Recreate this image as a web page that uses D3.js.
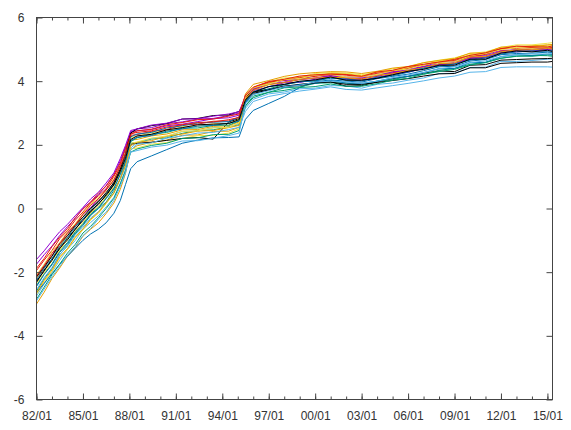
<!DOCTYPE html>
<html>
<head>
<meta charset="utf-8">
<script src="https://cdn.jsdelivr.net/npm/d3@7"></script>
<style>
  html, body { margin: 0; padding: 0; background: #fff; }
  svg { display: block; }
  .tick-label { font-family: "Liberation Sans", Arial, sans-serif; font-size: 12px; fill: #333; }
</style>
</head>
<body>
<svg id="chart" width="571" height="430"></svg>
<script>
// Sample dates (yy/mm) shared by every series
const knots = ["82/01","82/07","83/01","83/07","84/01","84/07","85/01","85/07","86/01","86/07",
  "87/01","87/06","87/10","88/02","88/07","89/06","90/06","91/06","92/06","93/06",
  "94/06","95/02","95/07","96/01","97/01","98/01","99/01","00/01","01/01","02/01",
  "03/01","04/01","05/01","06/01","07/01","08/01","09/01","10/01","11/01","12/01",
  "13/01","14/01","15/01","15/05"];

const s01 = [-1.75,-1.45,-1.18,-0.85,-0.57,-0.32,0.01,0.20,0.43,0.72,1.05,1.50,1.93,2.40,2.44,2.48,2.60,2.65,2.73,2.82,2.85,2.93,3.52,3.78,3.96,4.02,4.06,4.17,4.20,4.13,4.14,4.22,4.26,4.38,4.46,4.60,4.62,4.76,4.83,4.97,4.98,5.03,5.03,5.05];
const s02 = [-2.60,-2.20,-1.88,-1.45,-1.17,-0.80,-0.53,-0.22,0.00,0.20,0.57,0.93,1.45,2.05,2.07,2.18,2.22,2.36,2.45,2.47,2.57,2.63,3.35,3.66,3.76,3.89,3.98,4.01,4.12,4.03,4.03,4.09,4.20,4.32,4.39,4.53,4.54,4.68,4.76,4.90,4.98,4.96,5.00,4.97];
const s03 = [-2.75,-2.37,-2.00,-1.63,-1.28,-1.01,-0.65,-0.44,-0.23,0.05,0.35,0.80,1.22,1.90,2.07,2.20,2.26,2.42,2.43,2.54,2.55,2.67,3.15,3.43,3.60,3.66,3.76,3.78,3.86,3.85,3.78,3.90,3.94,4.03,4.10,4.24,4.25,4.43,4.44,4.62,4.62,4.65,4.69,4.70];
const s04 = [-3.00,-2.63,-2.20,-1.87,-1.50,-1.23,-0.87,-0.65,-0.45,-0.16,0.17,0.60,1.10,1.85,1.97,2.08,2.15,2.30,2.31,2.42,2.43,2.55,3.35,3.76,3.94,4.06,4.14,4.19,4.25,4.23,4.17,4.29,4.34,4.44,4.51,4.63,4.69,4.82,4.88,5.03,5.10,5.09,5.13,5.15];
const s05 = [-2.70,-2.30,-1.98,-1.55,-1.29,-0.93,-0.67,-0.36,-0.15,0.15,0.47,0.93,1.35,1.87,1.90,2.02,2.07,2.20,2.29,2.30,2.37,2.50,3.42,3.80,3.98,4.10,4.13,4.24,4.27,4.25,4.20,4.28,4.39,4.45,4.58,4.66,4.73,4.87,4.92,5.06,5.14,5.14,5.19,5.21];
const s06 = [-2.65,-2.35,-2.05,-1.75,-1.50,-1.25,-1.00,-0.80,-0.65,-0.45,-0.15,0.25,0.75,1.25,1.47,1.65,1.85,2.05,2.15,2.22,2.23,2.25,2.80,3.08,3.30,3.52,3.80,3.98,4.04,4.00,3.97,4.08,4.15,4.22,4.33,4.45,4.47,4.63,4.68,4.83,4.87,4.88,4.91,4.90];
const s07 = [-1.95,-1.62,-1.32,-0.95,-0.70,-0.37,-0.11,0.18,0.40,0.62,1.01,1.37,1.85,2.30,2.32,2.42,2.48,2.62,2.65,2.74,2.75,2.87,3.48,3.73,3.90,3.96,4.05,4.10,4.18,4.09,4.08,4.15,4.26,4.32,4.45,4.53,4.55,4.74,4.76,4.95,4.97,5.01,5.01,5.02];
const s08 = [-2.28,-1.97,-1.58,-1.27,-0.93,-0.66,-0.33,-0.12,0.17,0.38,0.77,1.13,1.58,2.02,2.05,2.08,2.14,2.20,2.23,2.18,2.72,2.82,3.52,3.66,3.74,3.84,3.90,3.95,3.98,3.84,3.86,3.98,4.08,4.15,4.25,4.32,4.30,4.50,4.52,4.66,4.68,4.70,4.71,4.72];
const s09 = [-2.15,-1.77,-1.48,-1.09,-0.75,-0.51,-0.17,0.02,0.31,0.60,0.90,1.33,1.82,2.40,2.50,2.54,2.67,2.72,2.81,2.83,2.92,3.00,3.45,3.70,3.82,3.95,3.96,4.06,4.14,4.05,4.04,4.11,4.23,4.28,4.40,4.53,4.54,4.72,4.73,4.91,4.92,4.95,4.99,4.96];
const s10 = [-2.85,-2.47,-2.08,-1.75,-1.40,-1.13,-0.77,-0.56,-0.29,0.00,0.32,0.77,1.18,1.77,1.87,1.98,2.05,2.20,2.22,2.32,2.33,2.45,3.22,3.53,3.65,3.79,3.82,3.93,3.95,3.94,3.88,4.00,4.05,4.15,4.22,4.34,4.40,4.53,4.59,4.72,4.78,4.81,4.80,4.78];
const s11 = [-2.90,-2.53,-2.15,-1.82,-1.47,-1.20,-0.85,-0.63,-0.33,-0.12,0.25,0.70,1.12,1.83,2.02,2.06,2.21,2.28,2.37,2.39,2.48,2.55,3.05,3.36,3.52,3.61,3.69,3.75,3.82,3.74,3.72,3.79,3.86,3.93,4.01,4.10,4.16,4.28,4.30,4.43,4.45,4.45,4.45,4.44];
const s12 = [-2.20,-1.87,-1.48,-1.18,-0.84,-0.59,-0.26,-0.05,0.25,0.46,0.83,1.19,1.67,2.15,2.17,2.28,2.34,2.47,2.48,2.58,2.60,2.72,3.60,3.90,4.02,4.15,4.23,4.27,4.30,4.29,4.24,4.31,4.41,4.46,4.58,4.65,4.71,4.88,4.89,5.07,5.08,5.11,5.14,5.15];
const s13 = [-2.08,-1.75,-1.35,-1.07,-0.73,-0.48,-0.15,0.14,0.35,0.56,0.94,1.30,1.78,2.23,2.27,2.38,2.44,2.57,2.58,2.66,2.67,2.80,3.55,3.80,3.97,4.05,4.14,4.19,4.21,4.20,4.15,4.28,4.32,4.42,4.49,4.63,4.65,4.83,4.84,5.02,5.08,5.06,5.10,5.12];
const s14 = [-2.25,-1.87,-1.58,-1.19,-0.92,-0.58,-0.33,-0.05,0.23,0.44,0.82,1.18,1.65,2.25,2.34,2.39,2.53,2.60,2.69,2.71,2.73,2.87,3.32,3.58,3.75,3.81,3.89,3.93,4.02,3.94,3.93,4.00,4.10,4.15,4.27,4.39,4.40,4.58,4.59,4.77,4.83,4.81,4.85,4.84];
const s15 = [-1.88,-1.57,-1.20,-0.90,-0.63,-0.29,-0.02,0.20,0.49,0.70,1.07,1.43,1.90,2.35,2.39,2.44,2.56,2.63,2.70,2.72,2.79,2.86,3.54,3.80,3.97,4.03,4.11,4.15,4.22,4.19,4.13,4.25,4.30,4.40,4.52,4.59,4.65,4.78,4.84,5.02,5.03,5.06,5.07,5.05];
const s16 = [-2.15,-1.83,-1.50,-1.11,-0.86,-0.53,-0.27,0.01,0.22,0.50,0.81,1.24,1.72,2.37,2.50,2.60,2.67,2.81,2.83,2.92,2.94,3.05,3.38,3.62,3.72,3.84,3.86,3.95,3.97,3.90,3.90,3.96,4.02,4.08,4.16,4.23,4.24,4.42,4.42,4.56,4.58,4.60,4.60,4.62];
const s17 = [-1.60,-1.33,-1.02,-0.73,-0.50,-0.23,0.03,0.30,0.51,0.80,1.12,1.57,1.98,2.45,2.50,2.62,2.68,2.81,2.82,2.90,2.97,3.04,3.52,3.74,3.91,3.97,4.06,4.09,4.17,4.10,4.10,4.17,4.29,4.34,4.46,4.53,4.59,4.72,4.80,4.93,4.99,4.97,5.01,5.00];
const s18 = [-2.42,-2.05,-1.74,-1.34,-1.07,-0.73,-0.47,-0.17,0.04,0.33,0.65,1.09,1.50,2.10,2.22,2.33,2.39,2.52,2.53,2.61,2.62,2.75,3.22,3.48,3.65,3.71,3.80,3.83,3.91,3.84,3.84,3.92,4.03,4.09,4.22,4.30,4.37,4.51,4.58,4.72,4.79,4.78,4.83,4.81];
const s19 = [-2.55,-2.17,-1.86,-1.45,-1.18,-0.84,-0.59,-0.30,-0.10,0.19,0.49,0.93,1.32,1.77,1.82,1.93,1.99,2.12,2.13,2.21,2.29,2.37,3.28,3.58,3.70,3.83,3.87,3.97,4.00,3.98,3.93,4.00,4.10,4.20,4.27,4.39,4.45,4.58,4.64,4.77,4.83,4.86,4.85,4.87];
const s20 = [-2.65,-2.25,-1.93,-1.52,-1.26,-0.90,-0.64,-0.34,-0.12,0.18,0.49,0.94,1.36,1.97,2.08,2.13,2.27,2.34,2.43,2.45,2.54,2.61,3.45,3.71,3.89,3.96,4.06,4.10,4.12,4.11,4.06,4.19,4.23,4.34,4.42,4.55,4.57,4.76,4.78,4.92,4.99,4.98,5.03,5.01];
const s21 = [-2.35,-2.03,-1.63,-1.32,-0.97,-0.71,-0.44,-0.14,0.07,0.37,0.68,1.13,1.54,2.05,2.09,2.21,2.28,2.42,2.44,2.53,2.55,2.69,3.50,3.80,3.91,4.05,4.08,4.19,4.21,4.13,4.14,4.21,4.33,4.38,4.52,4.59,4.61,4.80,4.87,4.99,5.05,5.03,5.07,5.09];
const s22 = [-2.45,-2.07,-1.77,-1.38,-1.11,-0.76,-0.50,-0.20,0.01,0.31,0.62,1.07,1.48,2.13,2.24,2.29,2.43,2.50,2.59,2.61,2.68,2.74,3.35,3.66,3.83,3.89,3.98,4.01,4.09,4.07,4.00,4.13,4.17,4.28,4.41,4.47,4.54,4.66,4.73,4.85,4.92,4.95,4.94,4.96];
const s23 = [-2.12,-1.80,-1.41,-1.11,-0.78,-0.52,-0.19,0.10,0.30,0.58,0.89,1.32,1.72,2.33,2.44,2.49,2.63,2.70,2.79,2.81,2.90,2.97,3.56,3.81,3.99,4.06,4.16,4.20,4.22,4.21,4.15,4.29,4.34,4.46,4.53,4.60,4.68,4.81,4.89,5.02,5.10,5.08,5.07,5.11];
const s24 = [-2.32,-1.93,-1.63,-1.24,-0.99,-0.65,-0.38,-0.08,0.13,0.43,0.74,1.17,1.57,2.17,2.28,2.33,2.47,2.54,2.63,2.65,2.67,2.79,3.42,3.65,3.83,3.90,4.00,4.04,4.13,4.03,4.03,4.09,4.20,4.31,4.37,4.50,4.50,4.69,4.69,4.88,4.95,4.92,4.97,4.93];

const seriesList = [s01,s02,s03,s04,s05,s06,s07,s08,s09,s10,s11,s12,
                    s13,s14,s15,s16,s17,s18,s19,s20,s21,s22,s23,s24];

// Line colours, cycled over the series
const palette = ["#9400d3","#009e73","#56b4e9","#e69f00","#f0e442","#0072b2","#e51e10","#000000"];

// Axis ticks
const yTicks = [-6,-4,-2,0,2,4,6];
const xTickLabels = ["82/01","85/01","88/01","91/01","94/01","97/01","00/01","03/01","06/01","09/01","12/01","15/01"];
const xDomain = ["82/01","15/05"];

const parse = d3.timeParse("%y/%m");
const fmt = d3.timeFormat("%y/%m");
const dates = knots.map(parse);

const margin = {left: 36.5, right: 18.5, top: 17.5, bottom: 30.5};
const W = 571, H = 430;
const svg = d3.select("#chart");

const x = d3.scaleTime()
  .domain(xDomain.map(parse))
  .range([margin.left, W - margin.right]);
const y = d3.scaleLinear()
  .domain([-6, 6])
  .range([H - margin.bottom, margin.top]);

const frameColor = "#444";

// data lines
const line = d3.line()
  .x((d, i) => x(dates[i]))
  .y(d => y(d));

const clipId = "plot-clip";
svg.append("clipPath").attr("id", clipId)
  .append("rect")
  .attr("x", margin.left).attr("y", margin.top)
  .attr("width", W - margin.left - margin.right)
  .attr("height", H - margin.top - margin.bottom);

svg.append("g").attr("clip-path", `url(#${clipId})`)
  .selectAll("path")
  .data(seriesList)
  .join("path")
  .attr("d", d => line(d))
  .attr("fill", "none")
  .attr("stroke", (d, i) => palette[i % palette.length])
  .attr("stroke-width", 1)
  .attr("stroke-linejoin", "round");

// axes: ticks point inward, mirrored on opposite sides
const majorX = xTickLabels.map(parse);
const minorX = d3.timeYear.range(parse("82/01"), parse("15/06"));

const xBottom = d3.axisBottom(x).tickValues(majorX).tickFormat(fmt).tickSizeInner(-6).tickSizeOuter(0).tickPadding(12);
const xBottomMinor = d3.axisBottom(x).tickValues(minorX).tickFormat("").tickSizeInner(-3).tickSizeOuter(0);
const xTop = d3.axisTop(x).tickValues(majorX).tickFormat("").tickSizeInner(-6).tickSizeOuter(0);
const xTopMinor = d3.axisTop(x).tickValues(minorX).tickFormat("").tickSizeInner(-3).tickSizeOuter(0);
const yLeft = d3.axisLeft(y).tickValues(yTicks).tickFormat(d => String(d)).tickSizeInner(-6).tickSizeOuter(0).tickPadding(12);
const yRight = d3.axisRight(y).tickValues(yTicks).tickFormat("").tickSizeInner(-6).tickSizeOuter(0);

function styleAxis(g) {
  g.select(".domain").remove();
  g.selectAll(".tick line").attr("stroke", frameColor);
  g.selectAll(".tick text").attr("class", "tick-label").attr("fill", "#333");
}

svg.append("g").attr("transform", `translate(0,${H - margin.bottom})`).call(xBottomMinor).call(styleAxis);
svg.append("g").attr("transform", `translate(0,${H - margin.bottom})`).call(xBottom).call(styleAxis);
svg.append("g").attr("transform", `translate(0,${margin.top})`).call(xTopMinor).call(styleAxis);
svg.append("g").attr("transform", `translate(0,${margin.top})`).call(xTop).call(styleAxis);
svg.append("g").attr("transform", `translate(${margin.left},0)`).call(yLeft).call(styleAxis);
svg.append("g").attr("transform", `translate(${W - margin.right},0)`).call(yRight).call(styleAxis);

// plot frame
svg.append("rect")
  .attr("x", margin.left).attr("y", margin.top)
  .attr("width", W - margin.left - margin.right)
  .attr("height", H - margin.top - margin.bottom)
  .attr("fill", "none")
  .attr("stroke", frameColor)
  .attr("stroke-width", 1);
</script>
</body>
</html>
